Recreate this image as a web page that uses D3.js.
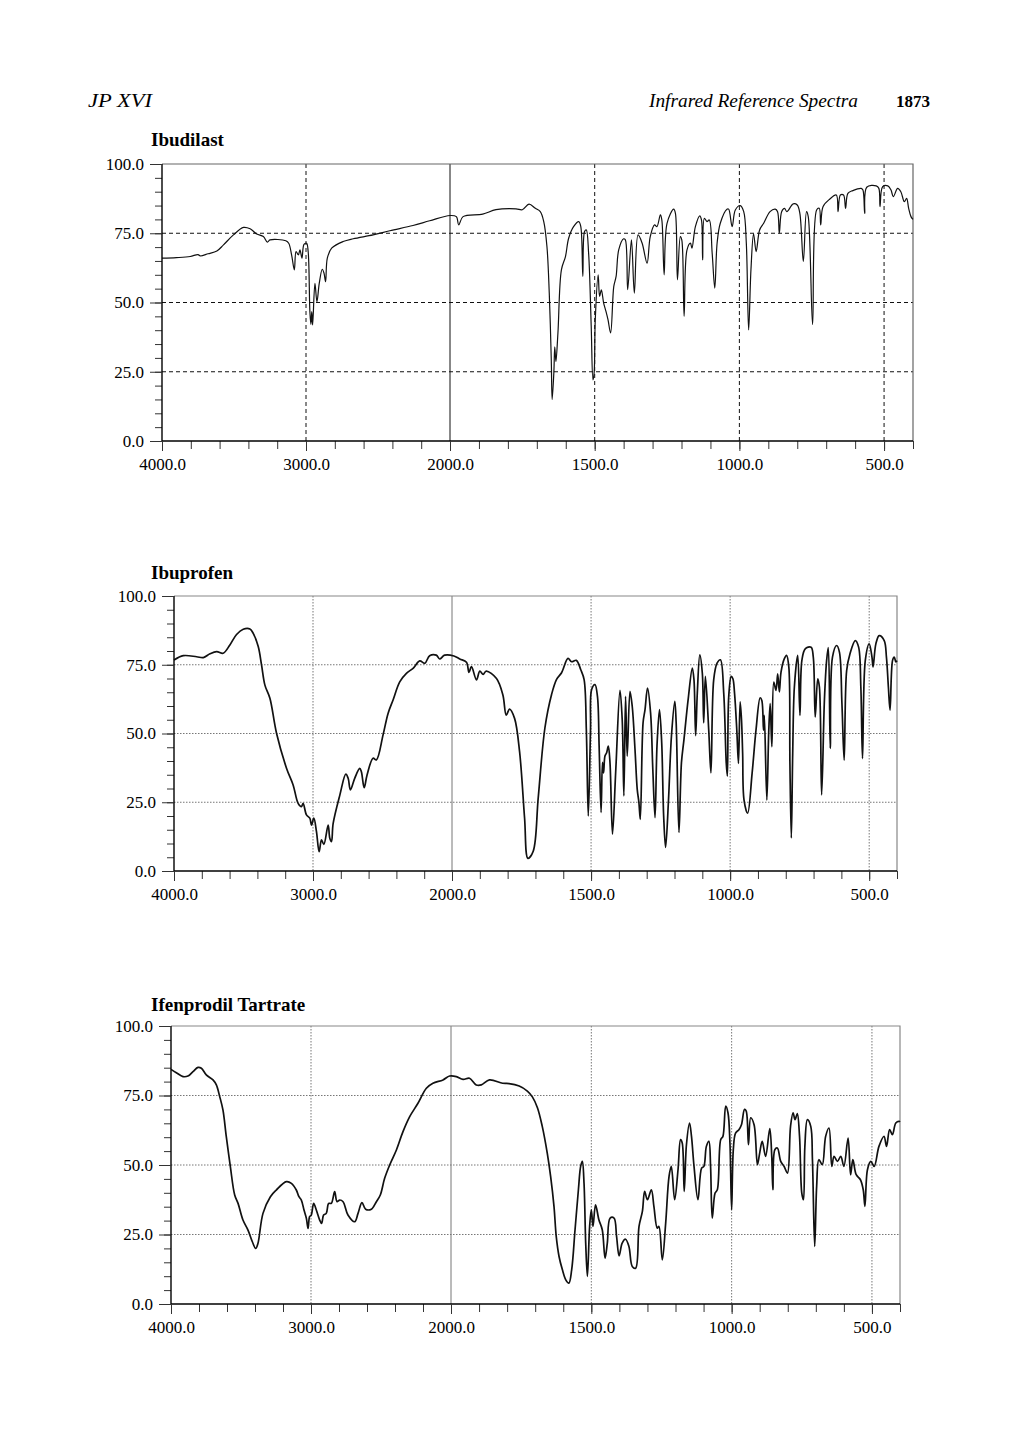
<!DOCTYPE html>
<html>
<head>
<meta charset="utf-8">
<script src="https://cdn.jsdelivr.net/npm/d3@7"></script>
<style>
  body { margin: 0; background: #fff; }
  text { font-family: "Liberation Serif", "Times New Roman", serif; }
</style>
</head>
<body>
<div id="page"></div>
<script>
// three IR reference spectra (JP XVI p.1873)

// x ticks (wavenumber, cm-1) and y ticks (%T)
var xLabels = [4000, 3000, 2000, 1500, 1000, 500];
var xMinor = d3.range(4000, 2000, -200).concat(d3.range(2000, 399, -100));
var yLabels = [0, 25, 50, 75, 100];
var yMinor = d3.range(0, 101, 5);
var xGrid = [3000, 1500, 1000, 500];
var yGrid = [25, 50, 75];

// [wavenumber, transmittance %]
var ibudilast = [[4000,66],[3900,66.2],[3804,66.6],[3750,67.3],[3734,66.8],[3680,67.6],[3619,68.6],[3573,70.8],[3504,74.4],[3434,77.1],[3388,76.6],[3342,74.7],[3296,73.8],[3268,71.8],[3250,72.6],[3140,72.3],[3120,71.4],[3100,67.2],[3081,61.8],[3069,68.4],[3053,67.2],[3042,69],[3028,66],[3014,71],[2996,71.4],[2985,68.4],[2973,46.7],[2966,42.1],[2960,46.7],[2954,41.9],[2938,56.9],[2924,50.3],[2908,56.9],[2887,62],[2875,60.6],[2864,57.5],[2852,66],[2822,69.6],[2742,72],[2672,73],[2534,74.4],[2418,75.9],[2257,77.8],[2141,79.5],[2000,81.4],[1978,81],[1970,78],[1955,81],[1887,81.9],[1841,83.5],[1772,83.8],[1750,83.5],[1727,85.5],[1705,84],[1688,82.8],[1676,79.2],[1665,70.2],[1657,53.4],[1650,29.3],[1647,15],[1641,25],[1638,34],[1634,28.7],[1627,39],[1615,61.8],[1601,66.6],[1590,73.2],[1573,77.4],[1555,79.2],[1548,77.4],[1541,59.4],[1535,75.6],[1529,76.2],[1521,67.8],[1512,41.4],[1506,22.1],[1502,24.5],[1498,43.8],[1488,60],[1483,52.2],[1477,54.6],[1469,49.8],[1461,46.8],[1454,43.8],[1445,39],[1434,55.8],[1426,59.4],[1417,69],[1400,73],[1394,72.6],[1386,54.6],[1373,72.6],[1363,53.4],[1350,74.4],[1336,71.4],[1319,64.2],[1308,73.8],[1293,78],[1285,77.4],[1273,81.6],[1268,79.8],[1260,60],[1250,78.6],[1227,83.7],[1221,82.2],[1214,58.2],[1204,73.8],[1199,72.6],[1191,45],[1181,69],[1169,71.4],[1164,69.6],[1152,77.4],[1137,81.3],[1131,79.8],[1127,65.4],[1121,80.4],[1112,79.2],[1104,79.8],[1094,67.8],[1085,55.2],[1077,71.4],[1066,78.6],[1043,83.7],[1037,83.7],[1025,77.4],[1014,83.4],[997,85],[985,82.8],[976,71.4],[968,40.1],[960,61.8],[951,74.8],[942,68.4],[930,76.2],[916,78.6],[894,82.8],[876,83.7],[868,82.8],[862,75],[854,82.8],[844,84],[836,82.8],[814,85.6],[800,85.2],[791,82.2],[779,64.8],[768,82.8],[762,81],[747,42],[733,83.4],[724,84],[719,78],[711,84.6],[688,87.3],[665,88.8],[659,82.8],[651,88.8],[640,88.8],[633,84],[625,89.4],[608,90.4],[579,91.2],[573,90.6],[567,82.2],[560,91.6],[527,92.1],[518,91.2],[514,84.6],[505,91.8],[487,92.1],[476,90.6],[468,88.2],[453,91.2],[442,90],[430,86.4],[422,87.6],[415,84],[407,81],[400,80]];

var ibuprofen = [[4000,76.7],[3933,78.3],[3837,77.9],[3789,77.6],[3741,79],[3693,79.8],[3646,79.2],[3598,82.2],[3550,86],[3502,87.9],[3454,88],[3430,86.4],[3394,81.6],[3370,74.9],[3346,67.6],[3310,62.8],[3262,50],[3190,37.3],[3143,31.3],[3107,24.6],[3083,23.4],[3071,24.6],[3047,20.4],[3023,19.2],[3011,16.7],[2994,19.2],[2975,14.3],[2956,7],[2939,11.3],[2922,9.7],[2891,16.7],[2879,11.9],[2867,10.7],[2855,17.3],[2807,27.6],[2764,35.2],[2747,33.7],[2731,29.5],[2700,33.7],[2664,37.3],[2652,36.1],[2632,30.3],[2611,34.9],[2568,41],[2544,40.4],[2496,49.5],[2460,57.3],[2424,62.2],[2376,68.8],[2328,71.9],[2280,73.7],[2232,76.4],[2196,75.5],[2161,78.3],[2113,78.5],[2089,77.1],[2053,78.5],[1993,78.2],[1972,77.1],[1948,75.9],[1939,72.2],[1930,74.3],[1912,69.5],[1900,72.7],[1888,71.5],[1877,72.7],[1840,70],[1817,64],[1805,56.7],[1793,58.9],[1775,55.5],[1757,43.4],[1739,19.2],[1727,4.6],[1708,7.2],[1690,26.6],[1666,52],[1642,64.2],[1624,69.7],[1606,72.1],[1583,77.3],[1570,76.1],[1553,76.6],[1537,73.2],[1525,69.6],[1517,51.4],[1510,20],[1502,51.4],[1498,66],[1486,67.8],[1477,63.5],[1471,45.4],[1464,21.3],[1459,39.5],[1455,35.7],[1450,41.8],[1444,43],[1438,45.4],[1432,39.5],[1423,13.4],[1411,37],[1396,65.7],[1388,55],[1382,27.3],[1376,63.5],[1370,41.8],[1360,65.3],[1352,59.9],[1342,44.2],[1334,29.7],[1328,24.9],[1323,18.8],[1313,53.9],[1306,58.7],[1297,66.5],[1286,57.5],[1278,37],[1270,19.4],[1263,45.4],[1254,58.7],[1246,46.6],[1239,20],[1232,8.6],[1222,24.9],[1211,49],[1199,61.7],[1194,53.9],[1184,14],[1175,39.4],[1166,47.8],[1151,62.3],[1136,73.8],[1130,69.6],[1124,49.2],[1118,64.7],[1109,78.6],[1100,72],[1095,53.9],[1089,70.8],[1077,51.4],[1069,35.7],[1059,69.6],[1047,75.6],[1035,76.8],[1023,64.7],[1014,39.4],[1010,34.5],[1005,63.5],[996,70.8],[990,69.9],[984,64.5],[976,51.2],[970,39.1],[964,61.5],[959,54.8],[955,42.8],[950,25.8],[937,21],[921,35.5],[907,51.2],[892,63],[886,62],[880,51.2],[877,56.6],[868,25.8],[861,51.2],[856,60.9],[850,45.2],[843,68.7],[835,65.7],[829,71.7],[823,65.1],[817,72.3],[805,77.2],[797,78.4],[789,74.2],[785,39.1],[780,12],[775,42.8],[769,66.9],[757,78.4],[749,56.6],[742,76.6],[730,80.8],[709,81.4],[701,77.8],[694,56],[685,69.9],[679,66.9],[671,27.7],[661,62.1],[653,76.6],[647,81.2],[640,44.6],[632,77.8],[617,82],[607,79.6],[598,60.9],[590,40.3],[581,72.9],[569,79],[550,83.8],[538,81.4],[530,66.9],[524,40.9],[514,76.6],[500,82.6],[490,77.8],[486,74.2],[476,82.6],[464,85.6],[446,83.8],[438,77.8],[431,66.9],[425,58.5],[416,76.6],[410,77.8],[404,76],[400,76.5]];

var ifenprodil = [[4000,84.4],[3962,83.2],[3914,81.8],[3879,82],[3843,83.6],[3807,85.1],[3783,84.8],[3748,82.4],[3700,80.6],[3676,78.8],[3652,74.6],[3629,69.8],[3605,60.2],[3576,49.4],[3545,39.2],[3521,36.2],[3486,30.2],[3450,26.6],[3419,22.4],[3395,20],[3379,21.8],[3343,32.6],[3290,38.6],[3248,41],[3176,44],[3140,43.4],[3105,41],[3086,38.6],[3069,37.4],[3050,33.8],[3033,30.8],[3021,27.2],[3010,31.4],[2998,32],[2981,36.2],[2962,33.8],[2938,30.2],[2924,29],[2910,32],[2891,32.6],[2874,36.2],[2855,36.2],[2831,40.4],[2814,36.8],[2795,37.4],[2771,36.8],[2736,32],[2688,29.6],[2664,32.6],[2636,36.5],[2610,34.1],[2569,34.1],[2533,36.8],[2505,39.2],[2474,45.2],[2438,50],[2390,55.4],[2343,62],[2295,67.4],[2236,72.2],[2176,77.6],[2129,79.4],[2057,80.6],[2010,82],[1981,81.8],[1957,80.8],[1934,81.2],[1910,78.8],[1892,78.8],[1863,80.6],[1816,79.4],[1793,79.3],[1757,78.4],[1728,76.6],[1710,74.5],[1692,70.6],[1675,64],[1657,54.3],[1645,45.9],[1633,35.1],[1625,24.3],[1615,17.1],[1603,12.3],[1591,8.7],[1580,7.5],[1570,12.3],[1558,26.7],[1546,41.1],[1538,49.5],[1532,51.3],[1526,43.5],[1520,21.9],[1514,9.9],[1506,27.9],[1500,33.9],[1494,27.9],[1485,35.7],[1473,30.3],[1461,26.7],[1451,16.5],[1443,21.9],[1433,30.9],[1419,30.9],[1410,24.3],[1401,17.3],[1390,21.9],[1378,23.3],[1366,20.7],[1354,13.5],[1342,12.9],[1330,27.9],[1318,33.3],[1310,40.5],[1300,37.5],[1286,41.1],[1277,35.1],[1265,27.3],[1259,27.9],[1247,15.9],[1235,29.1],[1223,45.9],[1215,49.5],[1203,37.5],[1191,48.3],[1182,59.1],[1176,57.9],[1169,40.5],[1161,57.3],[1150,65.1],[1143,60.3],[1134,49.5],[1120,37.5],[1107,48.9],[1099,49.5],[1090,56.7],[1081,58.5],[1075,49.5],[1069,30.9],[1059,39.9],[1051,41.1],[1039,59.1],[1031,60.3],[1021,71.2],[1013,68.8],[1006,57.9],[1000,33.9],[994,55.5],[986,61.5],[974,62.7],[965,64.5],[954,70],[948,69.4],[940,57.3],[932,67],[920,64.5],[908,50.1],[900,54.3],[891,58.5],[879,53.1],[864,63.1],[857,53.1],[853,41.1],[846,55.5],[837,56.1],[825,51.3],[813,49.5],[801,47.1],[790,64],[781,68.8],[774,66.3],[766,68.5],[758,60.3],[750,39.9],[744,37.5],[739,56.7],[730,66.3],[718,63.9],[712,51.9],[704,20.7],[697,42.3],[689,51.9],[677,50.1],[665,60.3],[653,63.3],[643,49.5],[635,53.1],[623,51.3],[611,53.1],[600,49.5],[585,59.7],[576,46.5],[568,51.9],[556,46.5],[541,44.7],[531,41.1],[525,35.1],[516,48.3],[504,51.3],[492,49.5],[475,56.7],[457,60.3],[448,56.7],[437,62.7],[427,60.9],[415,65.1],[403,65.7],[400,65.5]];

var width = 1020,
    height = 1442;

var svg = d3.select("#page").append("svg")
    .attr("width", width)
    .attr("height", height)
    .style("display", "block");

svg.append("rect").attr("width", width).attr("height", height).attr("fill", "#fff");

// page header (condensed italic in the print, so stretch to width)
svg.append("text").attr("x", 88).attr("y", 107)
   .attr("font-size", 19).attr("font-style", "italic")
   .attr("textLength", 64).attr("lengthAdjust", "spacingAndGlyphs").text("JP XVI");
svg.append("text").attr("x", 649).attr("y", 107)
   .attr("font-size", 19).attr("font-style", "italic")
   .attr("textLength", 209).attr("lengthAdjust", "spacingAndGlyphs").text("Infrared Reference Spectra");
svg.append("text").attr("x", 930).attr("y", 107).attr("text-anchor", "end")
   .attr("font-size", 17).attr("font-weight", "bold").text("1873");

// panel boxes (pixel positions of the frames on the page)
var panels = [
  { title: "Ibudilast", data: ibudilast, left: 162, top: 164, right: 913, bottom: 441, mid: 450,
    titleY: 146, lw: 1.2, grid: "#111", dash: "4,3", solid: "#111", frame: "#666" },
  { title: "Ibuprofen", data: ibuprofen, left: 174, top: 596, right: 897, bottom: 871, mid: 452,
    titleY: 579, lw: 1.7, grid: "#777", dash: "1.5,1.5", solid: "#777", frame: "#888" },
  { title: "Ifenprodil Tartrate", data: ifenprodil, left: 171, top: 1026, right: 900, bottom: 1304, mid: 451,
    titleY: 1011, lw: 1.7, grid: "#777", dash: "1.5,1.5", solid: "#777", frame: "#888" }
];

panels.forEach(function(p) {
    // IR paper: scale doubles below 2000 cm-1
    var x = d3.scaleLinear().domain([4000, 2000, 400]).range([p.left, p.mid, p.right]);
    var y = d3.scaleLinear().domain([0, 100]).range([p.bottom, p.top]);

    var g = svg.append("g");

    g.append("text").attr("x", 151).attr("y", p.titleY)
     .attr("font-size", 19).attr("font-weight", "bold").text(p.title);

    // grid
    g.selectAll(".hg").data(yGrid).enter().append("line")
     .attr("x1", p.left).attr("x2", p.right)
     .attr("y1", function(d) { return y(d); }).attr("y2", function(d) { return y(d); })
     .attr("stroke", p.grid).attr("stroke-width", 1).attr("stroke-dasharray", p.dash);
    g.selectAll(".vg").data(xGrid).enter().append("line")
     .attr("x1", function(d) { return x(d); }).attr("x2", function(d) { return x(d); })
     .attr("y1", p.top).attr("y2", p.bottom)
     .attr("stroke", p.grid).attr("stroke-width", 1).attr("stroke-dasharray", p.dash);
    g.append("line").attr("x1", x(2000)).attr("x2", x(2000)).attr("y1", p.top).attr("y2", p.bottom)
     .attr("stroke", p.solid).attr("stroke-width", 1);

    // top + right frame
    g.append("path")
     .attr("d", "M" + p.left + "," + p.top + "H" + p.right + "V" + p.bottom)
     .attr("fill", "none").attr("stroke", p.frame).attr("stroke-width", 1.2);

    // spectrum
    var line = d3.line()
        .x(function(d) { return x(d[0]); })
        .y(function(d) { return y(d[1]); })
        .curve(d3.curveCatmullRom.alpha(0.5));
    g.append("path").datum(p.data)
     .attr("d", line)
     .attr("fill", "none").attr("stroke", "#111").attr("stroke-width", p.lw)
     .attr("stroke-linejoin", "round");

    // axes: minor ticks, then labelled ones
    g.append("g").attr("transform", "translate(0," + p.bottom + ")")
     .call(d3.axisBottom(x).tickValues(xMinor).tickSize(8).tickSizeOuter(0).tickFormat(""))
     .call(function(a) { a.select(".domain").remove(); });
    var xa = g.append("g").attr("transform", "translate(0," + p.bottom + ")")
     .call(d3.axisBottom(x).tickValues(xLabels).tickSize(10).tickSizeOuter(0).tickPadding(7)
        .tickFormat(d3.format(".1f")));
    xa.select(".domain").attr("d", "M" + p.left + ",0H" + p.right).attr("stroke-width", 1.4);

    g.append("g").attr("transform", "translate(" + p.left + ",0)")
     .call(d3.axisLeft(y).tickValues(yMinor).tickSize(7).tickSizeOuter(0).tickFormat(""))
     .call(function(a) { a.select(".domain").remove(); });
    var ya = g.append("g").attr("transform", "translate(" + p.left + ",0)")
     .call(d3.axisLeft(y).tickValues(yLabels).tickSize(12).tickSizeOuter(0).tickPadding(6)
        .tickFormat(d3.format(".1f")));
    ya.select(".domain").attr("d", "M0," + p.top + "V" + p.bottom).attr("stroke-width", 1.4);

    g.selectAll(".tick text")
     .attr("font-family", "Liberation Serif, serif")
     .attr("font-size", 17).attr("fill", "#000");
    g.selectAll(".tick line").attr("stroke", "#333");
});
</script>
</body>
</html>
